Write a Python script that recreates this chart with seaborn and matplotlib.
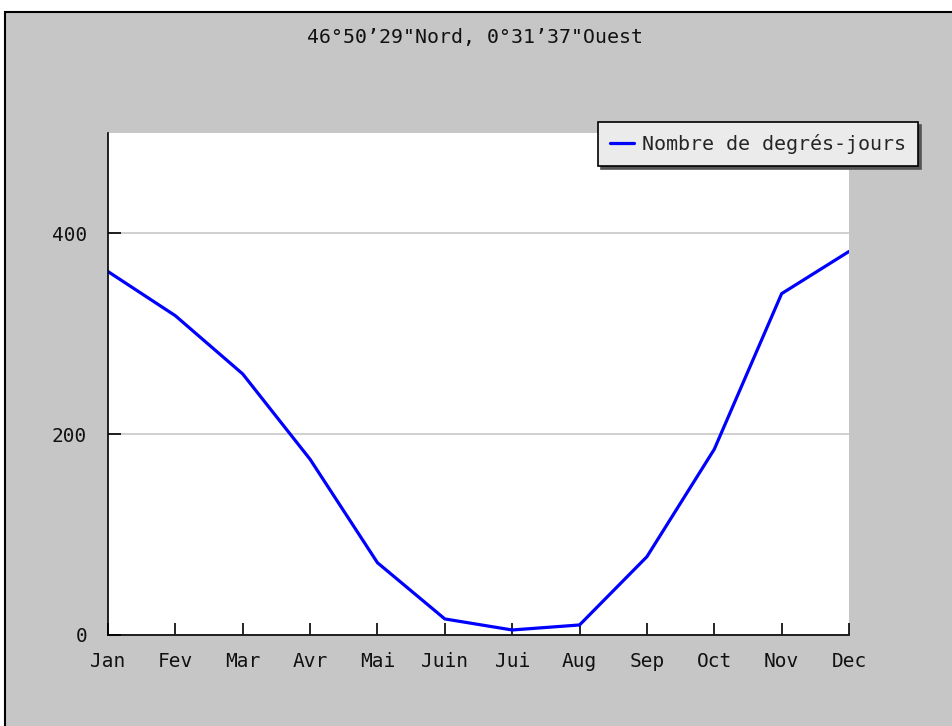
import pandas as pd
import numpy as np
import matplotlib
matplotlib.use('Agg')
import matplotlib.pyplot as plt
import seaborn as sns
from matplotlib.patches import Rectangle

# données
mois = ['Jan', 'Fev', 'Mar', 'Avr', 'Mai', 'Juin', 'Jui', 'Aug', 'Sep', 'Oct', 'Nov', 'Dec']
degres_jours = [362, 318, 260, 175, 72, 16, 5, 10, 78, 185, 340, 382]
y_ticks = [0, 200, 400]
titre = '46°50’29"Nord, 0°31’37"Ouest'
legende = 'Nombre de degrés-jours'

GRIS = '#c6c6c6'

sns.set_style('white')
plt.rcParams['font.family'] = ['DejaVu Sans Mono']

df = pd.DataFrame({'pos': np.arange(len(mois)), 'valeur': degres_jours})

fig = plt.figure(figsize=(9.53, 7.26), dpi=100)
fig.patch.set_facecolor('white')
# cadre gris avec bord noir en haut et à gauche
fig.patches.append(Rectangle((5 / 953, -0.1), 1.1, 1 - 12 / 726 + 0.1,
                             transform=fig.transFigure, facecolor=GRIS,
                             edgecolor='black', linewidth=1.5, zorder=-10))

ax = fig.add_axes([108 / 953, 1 - 635 / 726, (849 - 108) / 953, (635 - 133) / 726])
ax.set_facecolor('white')

sns.lineplot(data=df, x='pos', y='valeur', ax=ax, color='#0000ff', linewidth=2.3,
             label=legende, legend=False)

ax.set_xlim(0, len(mois) - 1)
ax.set_ylim(0, 500)
ax.set_xticks(df['pos'])
ax.set_xticklabels(mois)
ax.set_yticks(y_ticks)
ax.set_xlabel('')
ax.set_ylabel('')
ax.yaxis.grid(True, color='#c8c8c8', linewidth=1.2)
ax.set_axisbelow(True)

for s in ['top', 'right']:
    ax.spines[s].set_visible(False)
for s in ['left', 'bottom']:
    ax.spines[s].set_color('black')
    ax.spines[s].set_linewidth(1.2)

# le style "white" de seaborn masque les graduations : on les remet, vers l'intérieur
ax.tick_params(axis='both', bottom=True, left=True, direction='in', length=9,
               width=1.2, color='black', labelsize=14, labelcolor='#111111')
ax.tick_params(axis='x', pad=12)
ax.tick_params(axis='y', pad=15)

fig.text(475 / 953, 1 - 38 / 726, titre, ha='center', va='center', fontsize=14.3,
         color='#111111')

leg = fig.legend(handles=ax.get_lines()[:1], labels=[legende],
                 loc='upper right', bbox_to_anchor=(918 / 953, 1 - 122 / 726),
                 bbox_transform=fig.transFigure, fontsize=14.4, frameon=True,
                 fancybox=False, shadow={'color': '#555555', 'alpha': 1},
                 handlelength=1.2, handletextpad=0.4, borderpad=0.6,
                 borderaxespad=0)
leg.get_frame().set_facecolor('#ebebeb')
leg.get_frame().set_edgecolor('black')
leg.get_frame().set_linewidth(1.2)
leg.get_frame().set_alpha(1)

fig.savefig('out.png', dpi=100)
plt.close(fig)
